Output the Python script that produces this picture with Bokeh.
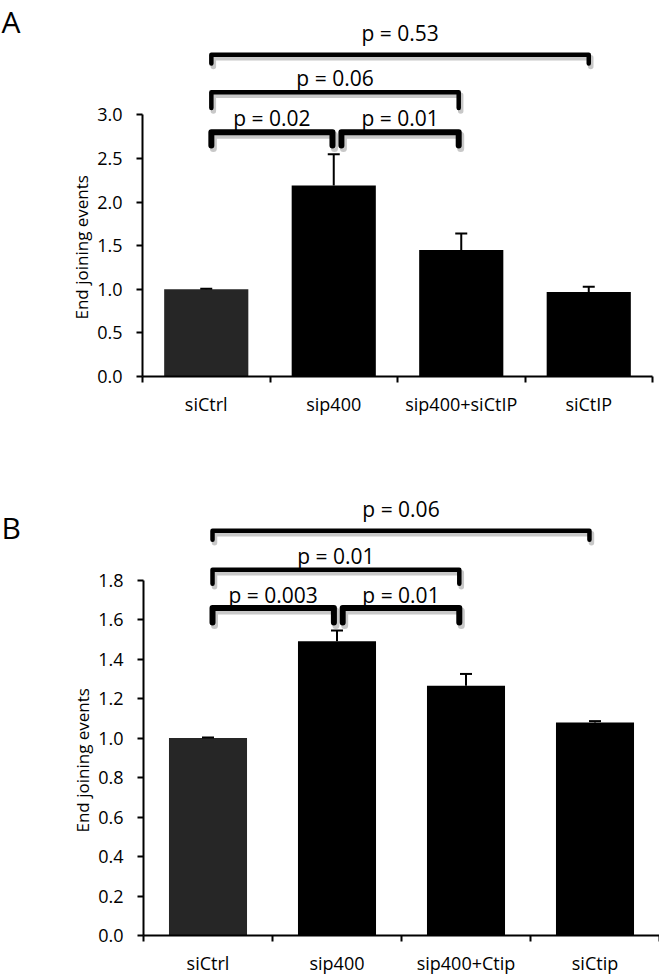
from bokeh.plotting import figure
from bokeh.layouts import column, row
from bokeh.models import FixedTicker
from bokeh.embed import file_html
from bokeh.resources import INLINE
from bokeh.core.properties import value

FONT = "Open Sans"

# ---------------- Panel A data ----------------
categories_a = ["siCtrl", "sip400", "sip400+siCtIP", "siCtIP"]
means_a = [1.00, 2.19, 1.45, 0.97]
errors_a = [0.006, 0.36, 0.19, 0.06]
yticks_a = [0.0, 0.5, 1.0, 1.5, 2.0, 2.5, 3.0]
ytick_labels_a = ["0.0", "0.5", "1.0", "1.5", "2.0", "2.5", "3.0"]
pvalues_a = ["p = 0.02", "p = 0.01", "p = 0.06", "p = 0.53"]
bracket_x0_a = [0.54, 1.56, 0.54, 0.54]
bracket_x1_a = [1.49, 2.48, 2.48, 3.50]
bracket_y_a = [2.80, 2.80, 3.26, 3.69]
bracket_leg_a = [2.65, 2.65, 3.08, 3.59]
pvalue_y_a = [2.96, 2.96, 3.42, 3.94]

# ---------------- Panel B data ----------------
categories_b = ["siCtrl", "sip400", "sip400+Ctip", "siCtip"]
means_b = [1.00, 1.49, 1.265, 1.079]
errors_b = [0.003, 0.055, 0.06, 0.007]
yticks_b = [0.0, 0.2, 0.4, 0.6, 0.8, 1.0, 1.2, 1.4, 1.6, 1.8]
ytick_labels_b = ["0.0", "0.2", "0.4", "0.6", "0.8", "1.0", "1.2", "1.4", "1.6", "1.8"]
pvalues_b = ["p = 0.003", "p = 0.01", "p = 0.01", "p = 0.06"]
bracket_x0_b = [0.535, 1.544, 0.535, 0.535]
bracket_x1_b = [1.476, 2.448, 2.448, 3.457]
bracket_y_b = [1.659, 1.659, 1.853, 2.050]
bracket_leg_b = [1.586, 1.586, 1.782, 2.005]
pvalue_y_b = [1.727, 1.727, 1.924, 2.160]

panel_letters = ["A", "B"]
y_axis_title = "End joining events"

bar_colors = ["#262626", "#000000", "#000000", "#000000"]
bracket_widths = [6, 6, 4.5, 4.5]

SIDE_W = 40  # left strip holding the panel letter


def make_side(letter, total_h, letter_center_px):
    f = figure(width=SIDE_W, height=total_h, x_range=(0, SIDE_W), y_range=(0, total_h),
               min_border=0, output_backend="svg", toolbar_location=None,
               x_axis_location=None, y_axis_location=None,
               background_fill_color="white", border_fill_color="white")
    f.outline_line_color = None
    f.xgrid.visible = False
    f.ygrid.visible = False
    f.text(x=[1], y=[total_h - letter_center_px], text=[letter], text_align="left",
           text_baseline="middle", text_font=value(FONT),
           text_font_size="30px", text_color="black")
    return f


def make_panel(cats, means, errs, yticks, ytick_labels, y_axis_max,
               pvals, bx0, bx1, by, bleg, py, frame_w, frame_h, y_end, bar_w,
               border_left, border_right, border_top, border_bottom, title_offset):
    n = len(cats)
    centers = [i + 0.5 for i in range(n)]
    p = figure(x_range=(0, n), y_range=(0, y_end),
               frame_width=frame_w, frame_height=frame_h,
               min_border_left=border_left, min_border_right=border_right,
               min_border_top=border_top, min_border_bottom=border_bottom,
               title=y_axis_title, title_location="left",
               output_backend="svg", toolbar_location=None,
               background_fill_color="white", border_fill_color="white")
    p.outline_line_color = None
    p.xgrid.visible = False
    p.ygrid.visible = False

    # y-axis title placed along the drawn axis (0 .. max), not the whole frame
    p.title.align = "left"
    p.title.offset = title_offset
    p.title.standoff = 3
    p.title.text_font = FONT
    p.title.text_font_size = "17px"
    p.title.text_font_style = "normal"
    p.title.text_color = "black"

    px_x = frame_w / n
    px_y = frame_h / y_end

    # bars
    p.vbar(x=centers, top=means, width=bar_w, bottom=0, fill_color=bar_colors,
           line_color=None)

    # error bars (upper only)
    tops = [m + e for m, e in zip(means, errs)]
    p.segment(x0=centers, y0=means, x1=centers, y1=tops, line_color="black", line_width=2)
    cap = 6.0 / px_x
    p.segment(x0=[c - cap for c in centers], y0=tops, x1=[c + cap for c in centers], y1=tops,
              line_color="black", line_width=2)

    # brackets with soft shadow
    xs = [[a, a, b, b] for a, b in zip(bx0, bx1)]
    ys = [[l, y, y, l] for y, l in zip(by, bleg)]
    dx = 2.0 / px_x
    dy = 3.0 / px_y
    xs_sh = [[v + dx for v in r] for r in xs]
    ys_sh = [[v - dy for v in r] for r in ys]
    p.multi_line(xs=xs_sh, ys=ys_sh, line_color="#9a9a9a", line_alpha=0.55,
                 line_width=[w + 1 for w in bracket_widths], line_join="round", line_cap="round")
    p.multi_line(xs=xs, ys=ys, line_color="black",
                 line_width=bracket_widths, line_join="round", line_cap="round")

    # p-values
    tx = [(a + b) / 2 for a, b in zip(bx0, bx1)]
    p.text(x=tx, y=py, text=pvals, text_align="center", text_baseline="middle",
           text_font=value(FONT), text_font_size="21px", text_color="black")

    # y axis
    ya = p.yaxis[0]
    ya.ticker = FixedTicker(ticks=yticks)
    ya.major_label_overrides = {t: l for t, l in zip(yticks, ytick_labels)}
    ya.bounds = (0, y_axis_max)
    ya.axis_line_width = 2
    ya.axis_line_color = "black"
    ya.major_tick_out = 6
    ya.major_tick_in = 0
    ya.major_tick_line_width = 2
    ya.minor_tick_line_color = None
    ya.major_label_text_font = FONT
    ya.major_label_text_font_size = "18px"
    ya.major_label_text_color = "black"
    ya.major_label_standoff = 14

    # x axis
    xa = p.xaxis[0]
    xa.ticker = FixedTicker(ticks=centers, minor_ticks=list(range(n + 1)))
    xa.major_label_overrides = {c: l for c, l in zip(centers, cats)}
    xa.axis_line_width = 2
    xa.axis_line_color = "black"
    xa.major_tick_line_color = None
    xa.major_tick_out = 0
    xa.major_tick_in = 0
    xa.minor_tick_out = 6
    xa.minor_tick_in = 0
    xa.minor_tick_line_width = 2
    xa.minor_tick_line_color = "black"
    xa.major_label_text_font = FONT
    xa.major_label_text_font_size = "18px"
    xa.major_label_text_color = "black"
    xa.major_label_standoff = 9
    return p


H_A = 8 + 368 + 104
H_B = 455 + 38

pa = make_panel(categories_a, means_a, errors_a, yticks_a, ytick_labels_a, 3.0,
                pvalues_a, bracket_x0_a, bracket_x1_a, bracket_y_a, bracket_leg_a, pvalue_y_a,
                frame_w=510, frame_h=368, y_end=368 / 87.2, bar_w=0.66,
                border_left=142 - SIDE_W, border_right=7, border_top=8, border_bottom=104,
                title_offset=57)

pb = make_panel(categories_b, means_b, errors_b, yticks_b, ytick_labels_b, 1.8,
                pvalues_b, bracket_x0_b, bracket_x1_b, bracket_y_b, bracket_leg_b, pvalue_y_b,
                frame_w=516, frame_h=455, y_end=455 / 197.4, bar_w=0.605,
                border_left=143 - SIDE_W, border_right=0, border_top=0, border_bottom=38,
                title_offset=103)

sa = make_side(panel_letters[0], H_A, 17)
sb = make_side(panel_letters[1], H_B, 531 - H_A)

layout = column(row(sa, pa, spacing=0), row(sb, pb, spacing=0), spacing=0)
open("out.html", "w").write(file_html(layout, INLINE))
